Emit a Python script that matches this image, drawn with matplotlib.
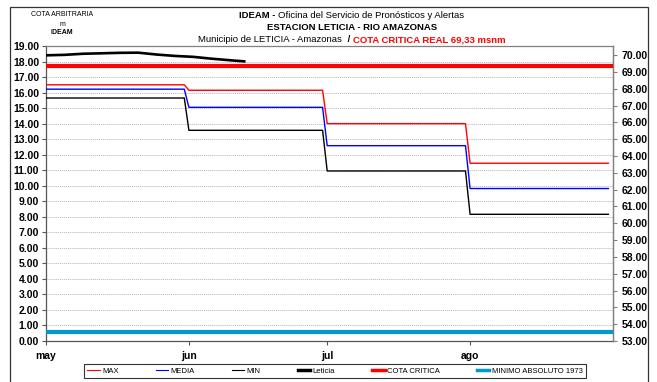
import matplotlib.pyplot as plt
from matplotlib.lines import Line2D
from matplotlib.patches import Rectangle

plt.rcParams['font.family'] = ['Liberation Sans', 'DejaVu Sans']

# dias contados desde el 1 de mayo
meses = ['may', 'jun', 'jul', 'ago']
mes_inicio = [0, 31, 61, 92]
mes_fin = [30, 60, 91, 122]

# cotas mensuales historicas (m, escala IDEAM)
cota_max = [16.50, 16.15, 14.00, 11.45]
cota_media = [16.22, 15.05, 12.58, 9.82]
cota_min = [15.65, 13.57, 10.95, 8.16]

# registro diario Leticia
dias_leticia = [0, 4, 8, 12, 16, 20, 24, 28, 32, 36, 40, 43]
nivel_leticia = [18.40, 18.43, 18.50, 18.53, 18.56, 18.57, 18.45, 18.36,
                 18.30, 18.18, 18.08, 18.01]

cota_critica_real = 69.33   # msnm, eje derecho
minimo_1973 = 0.57          # m, eje izquierdo

W, H = 657, 382
fig = plt.figure(figsize=(W / 100, H / 100), dpi=100)
ax = fig.add_axes([46 / W, 1 - 341 / H, (613 - 46) / W, (341 - 46) / H])
ax2 = ax.twinx()


def escalon(valores):
    xs, ys = [], []
    for a, b, v in zip(mes_inicio, mes_fin, valores):
        xs += [a, b]
        ys += [v, v]
    return xs, ys


for datos, color in [(cota_max, '#ff0000'), (cota_media, '#0000ff'), (cota_min, '#000000')]:
    xs, ys = escalon(datos)
    ax.plot(xs, ys, color=color, lw=1.0, zorder=3)

ax.plot(dias_leticia, nivel_leticia, color='black', lw=1.9, zorder=4)
ax.axhline(minimo_1973, color='#0099cc', lw=3.0, zorder=3)
ax2.axhline(cota_critica_real, color='#ff0000', lw=3.0, zorder=3)

ax.set_xlim(0, 123)
ax.set_ylim(0, 19)
ax2.set_ylim(53, 70.54)

ax.set_yticks(range(0, 20))
ax.set_yticklabels(['%.2f' % v for v in range(0, 20)])
ax2.set_yticks(range(53, 71))
ax2.set_yticklabels(['%.2f' % v for v in range(53, 71)])
ax.set_xticks(mes_inicio)
ax.set_xticklabels(meses)

for a in (ax, ax2):
    for lab in a.get_xticklabels() + a.get_yticklabels():
        lab.set_fontweight('bold')
        lab.set_fontsize(7.5)

ax.tick_params(axis='y', length=3, pad=2, width=0.8, color='#555555')
ax.tick_params(axis='x', length=3, pad=4, width=0.8, color='#555555')
ax2.tick_params(axis='y', length=3, pad=3, width=0.8, color='#808080')

ax.grid(axis='y', color='#b4b4b4', lw=0.7, linestyle=(0, (1, 1)))
ax.set_axisbelow(True)

for s in ['left', 'bottom']:
    ax.spines[s].set_color('#555555')
    ax.spines[s].set_linewidth(0.9)
for s in ['top', 'right']:
    ax.spines[s].set_color('#808080')
    ax.spines[s].set_linewidth(0.9)
ax2.spines['right'].set_color('#808080')
ax2.spines['right'].set_linewidth(0.9)
for s in ['left', 'top', 'bottom']:
    ax2.spines[s].set_visible(False)

# marco exterior
fig.patches.append(Rectangle((10 / W, -0.05), (648 - 10) / W, 1 - 7 / H + 0.05,
                             transform=fig.transFigure, fill=False,
                             ec='#333333', lw=0.9, zorder=10))

# titulo en tres lineas con estilos mezclados
renderer = fig.canvas.get_renderer()


def linea(y, partes, fs=6.8, cx=352 / W):
    textos = []
    for txt, peso, color in partes:
        t = fig.text(0, y, txt, fontsize=fs, fontweight=peso, color=color,
                     va='center', ha='left')
        textos.append(t)
    anchos = [t.get_window_extent(renderer).width / W for t in textos]
    x = cx - sum(anchos) / 2
    for t, w in zip(textos, anchos):
        t.set_x(x)
        x += w


linea(1 - 16 / H, [('IDEAM - ', 'bold', 'black'),
                   ('Oficina del Servicio de Pronósticos y Alertas', 'normal', 'black')])
linea(1 - 28 / H, [('ESTACION LETICIA - RIO AMAZONAS', 'bold', 'black')])
linea(1 - 40 / H, [('Municipio de LETICIA - Amazonas ', 'normal', 'black'),
                   (' / ', 'bold', 'black'),
                   ('COTA CRITICA REAL 69,33 msnm', 'bold', '#ff0000')])

fig.text(62 / W, 1 - 15 / H, 'COTA ARBITRARIA', fontsize=5, ha='center', va='center')
fig.text(62 / W, 1 - 24 / H, 'm', fontsize=5, ha='center', va='center')
fig.text(62 / W, 1 - 32 / H, 'IDEAM', fontsize=5, fontweight='bold', ha='center', va='center')

handles = [
    Line2D([], [], color='#ff0000', lw=0.8),
    Line2D([], [], color='#0000ff', lw=0.8),
    Line2D([], [], color='black', lw=0.8),
    Line2D([], [], color='black', lw=2.5),
    Line2D([], [], color='#ff0000', lw=2.5),
    Line2D([], [], color='#0099cc', lw=2.5),
]
etiquetas = ['MAX', 'MEDIA', 'MIN', 'Leticia', 'COTA CRITICA', 'MINIMO ABSOLUTO 1973']
leg = fig.legend(handles, etiquetas, loc='center', bbox_to_anchor=(335 / W, 1 - 371 / H),
                 ncol=6, fontsize=5.5, frameon=True, fancybox=False, handlelength=1.6,
                 handletextpad=0.3, columnspacing=4.9, borderpad=0.45)
leg.get_frame().set_edgecolor('black')
leg.get_frame().set_linewidth(0.8)

fig.savefig('out.png', dpi=100)
